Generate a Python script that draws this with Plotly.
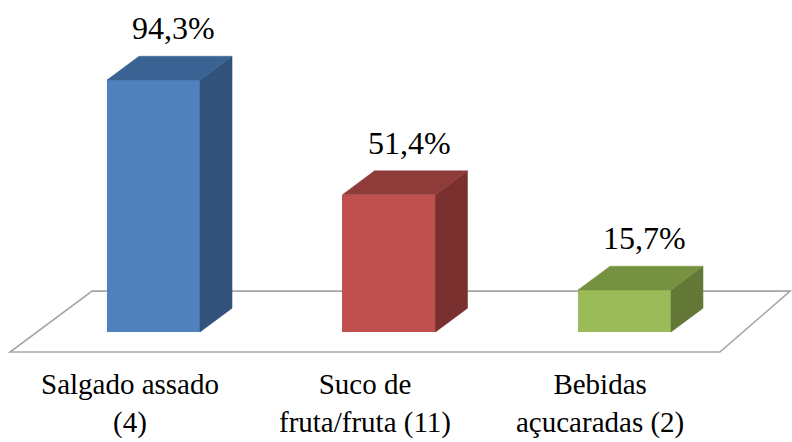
import plotly.graph_objects as go

categories_line1 = ["Salgado assado", "Suco de", "Bebidas"]
categories_line2 = ["(4)", "fruta/fruta (11)", "açucaradas (2)"]
values = [94.3, 51.4, 15.7]

front_colors = ["#4F81BD", "#C0504D", "#9BBB59"]
side_colors = ["#30527B", "#7A302E", "#637837"]
top_colors = ["#3A6394", "#8F3B39", "#76913F"]

xs = list(range(len(values)))
bar_w = 0.395
dx = 0.136   # depth offset (x units)
dy = 8.9     # depth offset (y units)
XR = [-0.6518, 2.7113]
YR = [-41.17, 124.25]
FONT = "Liberation Serif"

fig = go.Figure()

# floor
fig.add_shape(type="path",
              path="M -0.609 -7.5 L 2.405 -7.5 L 2.703 15.3 L -0.261 15.3 Z",
              xref="x", yref="y", layer="below",
              line=dict(color="#A6A6A6", width=1.6), fillcolor="white")

# front faces
fig.add_trace(go.Bar(x=xs, y=values, width=bar_w, base=0,
                     marker=dict(color=front_colors, line=dict(width=0)),
                     hoverinfo="skip", showlegend=False))

for xi, v, sc, tc in zip(xs, values, side_colors, top_colors):
    l, r = xi - bar_w / 2, xi + bar_w / 2
    # side face
    fig.add_trace(go.Scatter(x=[r, r + dx, r + dx, r, r], y=[0, dy, v + dy, v, 0],
                             fill="toself", fillcolor=sc, mode="lines",
                             line=dict(color=sc, width=0.5),
                             hoverinfo="skip", showlegend=False))
    # top face
    fig.add_trace(go.Scatter(x=[l, r, r + dx, l + dx, l], y=[v, v, v + dy, v + dy, v],
                             fill="toself", fillcolor=tc, mode="lines",
                             line=dict(color=tc, width=0.5),
                             hoverinfo="skip", showlegend=False))
    # value label
    fig.add_annotation(x=xi + dx / 2, y=v + dy, xref="x", yref="y",
                       text=f"{v:.1f}%".replace(".", ","), showarrow=False,
                       yanchor="bottom", xshift=4, yshift=8,
                       font=dict(family=FONT, size=32, color="#000000"))

# category labels (two lines each)
for xi, t1, t2 in zip(xs, categories_line1, categories_line2):
    fig.add_annotation(x=xi, y=-26.9, xref="x", yref="y", text=f"{t1}<br>{t2}",
                       showarrow=False, yanchor="middle", xanchor="center",
                       align="center", xshift=-24,
                       font=dict(family=FONT, size=29, color="#000000"))

fig.update_layout(width=792, height=442, margin=dict(l=0, r=0, t=0, b=0),
                  paper_bgcolor="white", plot_bgcolor="white",
                  xaxis=dict(range=XR, visible=False, fixedrange=True),
                  yaxis=dict(range=YR, visible=False, fixedrange=True),
                  bargap=0, showlegend=False)

fig.write_html("out.html")
